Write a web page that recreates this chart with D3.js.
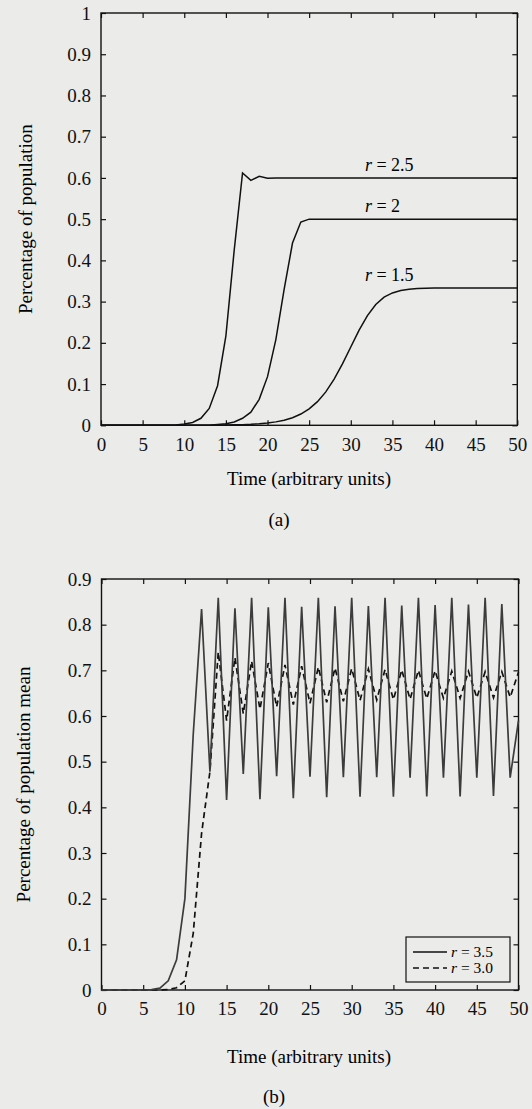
<!DOCTYPE html>
<html>
<head>
<meta charset="utf-8">
<script src="https://cdn.jsdelivr.net/npm/d3@7/dist/d3.min.js"></script>
<style>
  body { margin: 0; background: #ebebe9; }
</style>
</head>
<body>
<svg id="chart" width="532" height="1109" font-family="'Liberation Serif', 'Times New Roman', Times, serif"></svg>
<script>
// time steps (arbitrary units)
const time = [0, 1, 2, 3, 4, 5, 6, 7, 8, 9, 10, 11, 12, 13, 14, 15, 16, 17, 18, 19, 20,
  21, 22, 23, 24, 25, 26, 27, 28, 29, 30, 31, 32, 33, 34, 35, 36, 37, 38, 39, 40,
  41, 42, 43, 44, 45, 46, 47, 48, 49, 50];

// panel (a)
const popR25 = [0, 0, 0, 0, 0, 0, 0, 0, 0, 0.001, 0.003, 0.007, 0.017, 0.041, 0.096, 0.217,
  0.425, 0.612, 0.594, 0.604, 0.599, 0.6, 0.6, 0.6, 0.6, 0.6, 0.6, 0.6, 0.6, 0.6, 0.6,
  0.6, 0.6, 0.6, 0.6, 0.6, 0.6, 0.6, 0.6, 0.6, 0.6, 0.6, 0.6, 0.6, 0.6, 0.6, 0.6, 0.6, 0.6, 0.6, 0.6];
const popR2 = [0, 0, 0, 0, 0, 0, 0, 0, 0, 0, 0, 0, 0, 0, 0.002, 0.004, 0.008, 0.017, 0.032,
  0.063, 0.118, 0.208, 0.33, 0.442, 0.493, 0.5, 0.5, 0.5, 0.5, 0.5, 0.5, 0.5, 0.5, 0.5, 0.5,
  0.5, 0.5, 0.5, 0.5, 0.5, 0.5, 0.5, 0.5, 0.5, 0.5, 0.5, 0.5, 0.5, 0.5, 0.5, 0.5];
const popR15 = [0, 0, 0, 0, 0, 0, 0, 0, 0, 0, 0, 0, 0, 0, 0.0005, 0.0007, 0.0011, 0.0016,
  0.0024, 0.0037, 0.0055, 0.0083, 0.0124, 0.0185, 0.0273, 0.0398, 0.0573, 0.081, 0.112,
  0.149, 0.19, 0.231, 0.266, 0.293, 0.311, 0.321, 0.327, 0.33, 0.332, 0.3325, 0.333,
  0.333, 0.333, 0.333, 0.333, 0.333, 0.333, 0.333, 0.333, 0.333, 0.333];

// panel (b)
const meanR35 = [0, 0, 0, 0, 0, 0, 0.001, 0.004, 0.02, 0.066, 0.2, 0.56, 0.834, 0.478,
  0.859, 0.416, 0.836, 0.473, 0.859, 0.418, 0.838, 0.468, 0.859, 0.42, 0.839, 0.467,
  0.859, 0.422, 0.84, 0.466, 0.859, 0.423, 0.841, 0.466, 0.859, 0.423, 0.842, 0.465,
  0.859, 0.424, 0.843, 0.465, 0.859, 0.424, 0.844, 0.465, 0.859, 0.425, 0.845, 0.465, 0.59];
const meanR30 = [0, 0, 0, 0, 0, 0, 0, 0, 0.001, 0.005, 0.02, 0.124, 0.343, 0.478, 0.74,
  0.59, 0.728, 0.605, 0.72, 0.615, 0.716, 0.62, 0.712, 0.625, 0.709, 0.628, 0.707, 0.63,
  0.705, 0.632, 0.704, 0.634, 0.703, 0.635, 0.702, 0.636, 0.701, 0.637, 0.7, 0.638,
  0.699, 0.639, 0.698, 0.639, 0.698, 0.64, 0.697, 0.64, 0.697, 0.641, 0.696];

const xTicks = [0, 5, 10, 15, 20, 25, 30, 35, 40, 45, 50];
const yTicksA = [0, 0.1, 0.2, 0.3, 0.4, 0.5, 0.6, 0.7, 0.8, 0.9, 1];
const yTicksB = [0, 0.1, 0.2, 0.3, 0.4, 0.5, 0.6, 0.7, 0.8, 0.9];
const seriesA = [
  { name: "2.5", values: popR25 },
  { name: "2", values: popR2 },
  { name: "1.5", values: popR15 }
];
const legendB = ["3.5", "3.0"];

const FONT = "'Liberation Serif', 'Times New Roman', Times, serif";
const svg = d3.select("#chart");
const fmt = d => d3.format("~g")(d);

function drawFrame(x, y, yTicks, yTitle, xTitleY, tagY, tagX, tag, yTitleX) {
  const g = svg.append("g");
  const [x0, x1] = x.range();
  const [y0, y1] = y.range();

  g.append("g")
    .attr("transform", `translate(0,${y0})`)
    .call(d3.axisBottom(x).tickValues(xTicks).tickSize(-5).tickPadding(12).tickFormat(fmt));
  g.append("g")
    .attr("transform", `translate(0,${y1})`)
    .call(d3.axisTop(x).tickValues(xTicks).tickSize(-5).tickFormat(""));
  g.append("g")
    .attr("transform", `translate(${x0},0)`)
    .call(d3.axisLeft(y).tickValues(yTicks).tickSize(-5).tickPadding(10).tickFormat(fmt));
  g.append("g")
    .attr("transform", `translate(${x1},0)`)
    .call(d3.axisRight(y).tickValues(yTicks).tickSize(-5).tickFormat(""));

  g.selectAll(".domain").remove();
  g.selectAll("g").attr("font-family", FONT).attr("font-size", 19);
  g.selectAll(".tick line").attr("stroke", "#111").attr("stroke-width", 1.2);
  g.selectAll(".tick text").attr("fill", "#111");

  g.append("rect")
    .attr("x", x0).attr("y", y1)
    .attr("width", x1 - x0).attr("height", y0 - y1)
    .attr("fill", "none").attr("stroke", "#111").attr("stroke-width", 1.4);

  svg.append("text")
    .attr("transform", `translate(${yTitleX},${(y0 + y1) / 2}) rotate(-90)`)
    .attr("text-anchor", "middle")
    .attr("font-size", 19)
    .text(yTitle);

  svg.append("text")
    .attr("x", 309).attr("y", xTitleY)
    .attr("text-anchor", "middle")
    .attr("font-size", 19)
    .text("Time (arbitrary units)");

  svg.append("text")
    .attr("x", tagX).attr("y", tagY)
    .attr("text-anchor", "middle")
    .attr("font-size", 19)
    .text(tag);
}

// ---- panel (a)
const xA = d3.scaleLinear().domain([0, 50]).range([101, 517.3]);
const yA = d3.scaleLinear().domain([0, 1]).range([425.3, 13]);

drawFrame(xA, yA, yTicksA, "Percentage of population", 485, 526, 279, "(a)", 32);

const lineA = d3.line()
  .x((d, i) => xA(time[i]))
  .y(d => yA(d));

svg.append("g").selectAll("path")
  .data(seriesA)
  .join("path")
  .attr("d", d => lineA(d.values))
  .attr("fill", "none")
  .attr("stroke", "#111")
  .attr("stroke-width", 1.5);

// curve labels sit just above each plateau
svg.append("g").selectAll("text")
  .data(seriesA)
  .join("text")
  .attr("x", xA(31.7))
  .attr("y", d => yA(d.values[time.length - 1]) - 7)
  .attr("font-size", 18)
  .html(d => `<tspan font-style="italic">r</tspan> = ${d.name}`);

// ---- panel (b)
const xB = d3.scaleLinear().domain([0, 50]).range([101.5, 518.5]);
const yB = d3.scaleLinear().domain([0, 0.9]).range([990, 579]);

drawFrame(xB, yB, yTicksB, "Percentage of population mean", 1063, 1103, 274, "(b)", 30);

const lineB = d3.line()
  .x((d, i) => xB(time[i]))
  .y(d => yB(d));

svg.append("path")
  .attr("d", lineB(meanR30))
  .attr("fill", "none")
  .attr("stroke", "#111")
  .attr("stroke-width", 1.7)
  .attr("stroke-dasharray", "6,4");

svg.append("path")
  .attr("d", lineB(meanR35))
  .attr("fill", "none")
  .attr("stroke", "#3c3c3c")
  .attr("stroke-width", 1.7);

// legend
const lg = svg.append("g").attr("transform", "translate(406,937)");
lg.append("rect")
  .attr("width", 104).attr("height", 45)
  .attr("fill", "#ebebe9").attr("stroke", "#111").attr("stroke-width", 1.2);
legendB.forEach((r, i) => {
  lg.append("line")
    .attr("x1", 7).attr("x2", 41)
    .attr("y1", 15 + i * 16).attr("y2", 15 + i * 16)
    .attr("stroke", "#111").attr("stroke-width", 1.3)
    .attr("stroke-dasharray", i === 0 ? null : "6,4");
  lg.append("text")
    .attr("x", 45).attr("y", 20 + i * 16)
    .attr("font-size", 15.5)
    .html(`<tspan font-style="italic">r</tspan> = ${r}`);
});
</script>
</body>
</html>
